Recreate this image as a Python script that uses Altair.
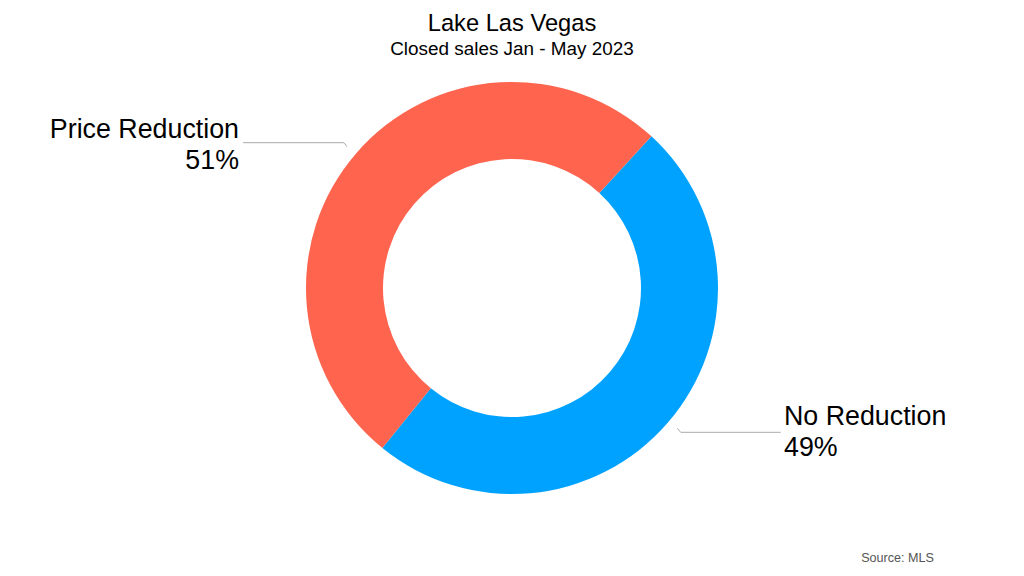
import math
import altair as alt
import pandas as pd

# Data
categories = ["No Reduction", "Price Reduction"]
shares = [49, 51]
colors = ["#00A2FF", "#FF644E"]
title_text = "Lake Las Vegas"
subtitle_text = "Closed sales Jan - May 2023"
source_text = "Source: MLS"

df = pd.DataFrame({
    "category": categories,
    "share": shares,
    "order": list(range(len(categories))),
})

W, H = 1008, 560
FONT = "Liberation Sans"
start = math.radians(42.6)

base = alt.Chart(df)

donut = base.mark_arc(innerRadius=129, outerRadius=206).encode(
    theta=alt.Theta("share:Q", stack=True,
                    scale=alt.Scale(range=[start, start + 2 * math.pi])),
    color=alt.Color("category:N",
                    scale=alt.Scale(domain=categories, range=colors),
                    legend=None),
    order=alt.Order("order:Q"),
)

def label_layer(cat, x, y, align):
    sub = df[df["category"] == cat].copy()
    sub["label"] = sub.apply(lambda r: [r["category"], f"{r['share']}%"], axis=1)
    return alt.Chart(sub).mark_text(
        align=align, baseline="alphabetic", font=FONT, fontSize=26.8,
        lineHeight=31, color="#000000",
    ).encode(text="label", x=alt.value(x), y=alt.value(y))

lbl_price = label_layer("Price Reduction", 231, 129.5, "right")
lbl_no = label_layer("No Reduction", 776, 417, "left")

def rule(x1, y1, x2, y2):
    return alt.Chart(df.head(1)).mark_rule(color="#AAAAAA", strokeWidth=1).encode(
        x=alt.value(x1), x2=alt.value(x2), y=alt.value(y1), y2=alt.value(y2)
    )

leaders = (
    rule(235, 134.7, 336, 134.7)
    + rule(336, 134.7, 339, 138.7)
    + rule(672.7, 424.3, 772.7, 424.3)
    + rule(669.3, 420.3, 672.7, 424.3)
)

def text_mark(txt, x, y, size, align="center", color="#000000"):
    return alt.Chart(pd.DataFrame({"t": [txt]})).mark_text(
        align=align, baseline="alphabetic", font=FONT, fontSize=size, color=color
    ).encode(text="t:N", x=alt.value(x), y=alt.value(y))

title = text_mark(title_text, W / 2, 22.7, 23.7)
subtitle = text_mark(subtitle_text, W / 2, 47, 18.9)
source = text_mark(source_text, 926, 553.5, 12.6, align="right", color="#555555")

chart = alt.layer(
    donut, leaders, lbl_price, lbl_no, title, subtitle, source
).properties(
    width=W, height=H,
    autosize=alt.AutoSizeParams(type="none"),
    padding=0,
    background="white",
).configure_view(stroke=None)

chart.save("out.html", embed_options={"renderer": "svg", "actions": False})
